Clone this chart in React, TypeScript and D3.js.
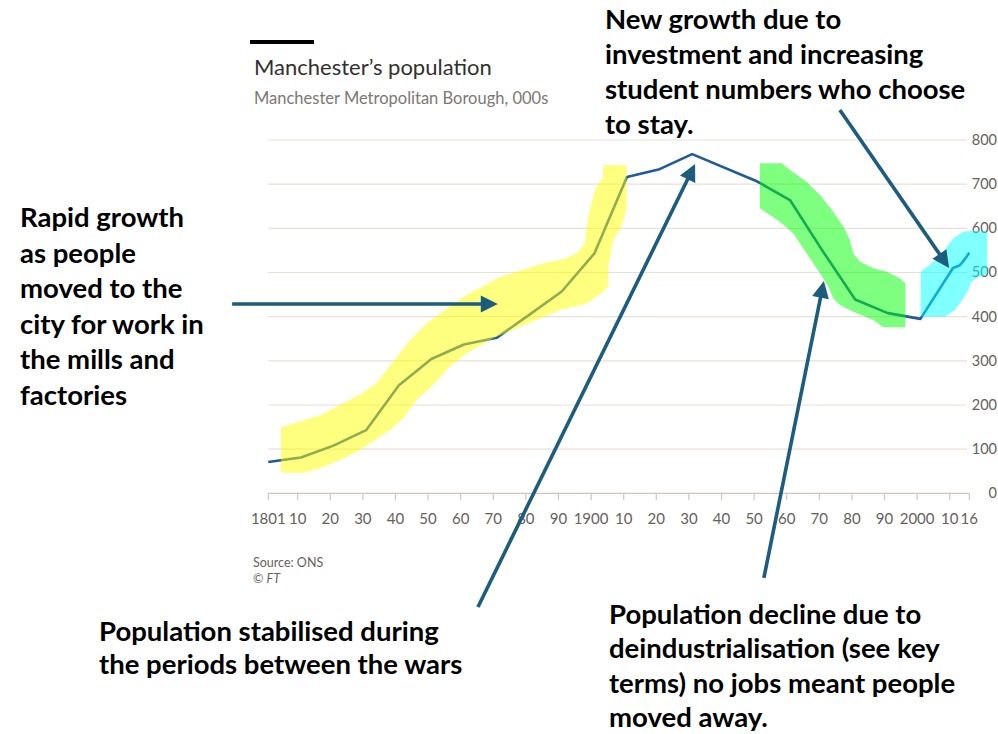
import React from "react";
import * as d3 from "d3";

// ---------- data ----------
const years = [1801, 1811, 1821, 1831, 1841, 1851, 1861, 1871, 1881, 1891, 1901, 1911, 1921, 1931, 1951, 1961, 1971, 1981, 1991, 2001, 2011, 2012, 2013, 2014, 2015, 2016];
const population = [71, 81, 108, 143, 244, 304, 337, 352, 404, 457, 543, 716, 734, 768, 706, 664, 549, 439, 408, 395, 510, 513, 516, 524, 534, 545];

const xTickYears = [1801, 1810, 1820, 1830, 1840, 1850, 1860, 1870, 1880, 1890, 1900, 1910, 1920, 1930, 1940, 1950, 1960, 1970, 1980, 1990, 2000, 2010, 2016];
const xTickLabels = ["1801", "10", "20", "30", "40", "50", "60", "70", "80", "90", "1900", "10", "20", "30", "40", "50", "60", "70", "80", "90", "2000", "10", "16"];
const yTicks = [0, 100, 200, 300, 400, 500, 600, 700, 800];

// highlighter outlines, in [year, population] units
const yellowOutline: [number, number][] = [
  [1804.9, 149.5], [1816.9, 177], [1829.1, 223], [1834.2, 249], [1839.3, 298], [1844.5, 347], [1849.6, 385],
  [1860.8, 445], [1872.1, 490], [1885.3, 521], [1891.5, 530], [1895.6, 543], [1898.1, 566], [1899.1, 626],
  [1901.2, 687], [1903.7, 717], [1903.7, 743.4], [1910.9, 743.4], [1910.9, 641.5], [1908.9, 596], [1906.8, 574],
  [1905.3, 513], [1905.3, 468], [1903.7, 456.5], [1898.7, 430], [1890.5, 415], [1878.2, 377], [1870.0, 351],
  [1861.8, 317], [1856.7, 287], [1851.6, 245], [1846.5, 211], [1842.4, 170], [1838.3, 143], [1829.1, 98],
  [1824.0, 79], [1816.9, 57], [1811.7, 46.6], [1804.9, 46.6],
];
const greenOutline: [number, number][] = [
  [1951.8, 747.3], [1958.5, 747.3], [1961.0, 732], [1966.1, 705.6], [1970.2, 675.5], [1974.3, 637.7],
  [1977.4, 603.7], [1979.4, 573.6], [1980.4, 543.5], [1982.5, 524.5], [1986.6, 509.5], [1990.7, 501.8],
  [1994.7, 486.9], [1996.4, 475.5], [1996.4, 375.9], [1989.6, 375.9], [1986.6, 392.4], [1980.4, 411.2],
  [1976.3, 426.4], [1974.3, 441.6], [1972.8, 467.8], [1970.2, 498.2], [1966.1, 543.5], [1962.0, 588.8],
  [1957.9, 615], [1951.8, 645.4],
];
const cyanOutline: [number, number][] = [
  [2001.1, 399.9], [2008.5, 399.9], [2011.6, 415.1], [2014.2, 441.6], [2015.7, 460.4], [2016.7, 479.2],
  [2018.8, 490.5], [2021.5, 494.3], [2021.5, 592.4], [2017.2, 594.7], [2014.2, 592.4], [2011.1, 577.4],
  [2009.1, 558.4], [2007.5, 539.6], [2005.0, 524.5], [2001.1, 501.8],
];

// annotation arrows: [tailYear, tailValue, tipYear, tipValue]
const arrows: [number, number, number, number][] = [
  [1789.9, 428.7, 1871.4, 428.7],
  [1865.3, -257.5, 1931.9, 745.7],
  [1976.3, 868, 2009.8, 510.2],
  [1953.0, -191.4, 1971.4, 480.8],
];

const noteRapid = ["Rapid growth", "as people", "moved to the", "city for work in", "the mills and", "factories"];
const noteNew = ["New growth due to", "investment and increasing", "student numbers who choose", "to stay."];
const noteStable = ["Population stabilised during", "the periods between the wars"];
const noteDecline = ["Population decline due to", "deindustrialisation (see key", "terms) no jobs meant people", "moved away."];

// ---------- layout ----------
const W = 998;
const H = 734;
const x = d3.scaleLinear().domain([1801, 2016]).range([268.3, 969.3]);
const y = d3.scaleLinear().domain([0, 800]).range([493.3, 140]);

const lineGen = d3.line<number>().x((_, i) => x(years[i])).y((d) => y(d));
const outlineGen = d3.line<[number, number]>().x((d) => x(d[0])).y((d) => y(d[1])).curve(d3.curveLinearClosed);

const annFont = "Lato, 'Liberation Sans', sans-serif";
const chartFont = "Lato, 'Open Sans', sans-serif";
const arrowColor = "#1c5c7e";

function Arrow({ a }: { a: [number, number, number, number] }) {
  const x1 = x(a[0]), y1 = y(a[1]), x2 = x(a[2]), y2 = y(a[3]);
  const ang = Math.atan2(y2 - y1, x2 - x1);
  const len = 17, hw = 8.5;
  const bx = x2 - len * Math.cos(ang), by = y2 - len * Math.sin(ang);
  const px = -Math.sin(ang) * hw, py = Math.cos(ang) * hw;
  return (
    <g>
      <line x1={x1} y1={y1} x2={bx + 2 * Math.cos(ang)} y2={by + 2 * Math.sin(ang)} stroke={arrowColor} strokeWidth={3.6} />
      <polygon points={`${x2},${y2} ${bx + px},${by + py} ${bx - px},${by - py}`} fill={arrowColor} />
    </g>
  );
}

function TextBlock({ lines, x0, y0, dy, size }: { lines: string[]; x0: number; y0: number; dy: number; size: number }) {
  return (
    <g fontFamily={annFont} fontWeight={700} fontSize={size} fill="#000">
      {lines.map((l, i) => (
        <text key={i} x={x0} y={y0 + i * dy}>{l}</text>
      ))}
    </g>
  );
}

export default function App() {
  return (
    <svg width={W} height={H} style={{ position: "absolute", left: 0, top: 0, background: "#fff" }}>
      <rect width={W} height={H} fill="#fff" />
      {/* title */}
      <rect x={250} y={40} width={64} height={4} fill="#000" />
      <text x={254} y={75} fontFamily={chartFont} fontSize={22} fill="#33302e">Manchester’s population</text>
      <text x={254} y={104} fontFamily={chartFont} fontSize={16.5} fill="#7d7773">Manchester Metropolitan Borough, 000s</text>

      {/* gridlines and y labels */}
      {yTicks.map((t) => (
        <g key={t}>
          {t > 0 && <line x1={x(1801)} x2={967} y1={y(t)} y2={y(t)} stroke="#eadfd5" strokeWidth={1.2} />}
          <text x={997} y={y(t) + 5} textAnchor="end" fontFamily={chartFont} fontSize={14.5} fill="#66605c">{t}</text>
        </g>
      ))}

      {/* x axis */}
      <line x1={x(1801)} x2={x(2016)} y1={y(0)} y2={y(0)} stroke="#d0c6bd" strokeWidth={1.2} />
      {xTickYears.map((yr, i) => (
        <g key={yr}>
          <line x1={x(yr)} x2={x(yr)} y1={y(0)} y2={y(0) + 7} stroke="#d0c6bd" strokeWidth={1.2} />
          <text x={x(yr)} y={524} textAnchor="middle" fontFamily={chartFont} fontSize={15} fill="#66605c">{xTickLabels[i]}</text>
        </g>
      ))}

      {/* data line */}
      <path d={lineGen(population) || ""} fill="none" stroke="#1f5a9c" strokeWidth={2.6} strokeLinejoin="round" />

      {/* highlighter */}
      <path d={outlineGen(yellowOutline) || ""} fill="rgba(255,255,0,0.5)" />
      <path d={outlineGen(greenOutline) || ""} fill="rgba(0,255,0,0.5)" />
      <path d={outlineGen(cyanOutline) || ""} fill="rgba(0,255,255,0.5)" />

      {/* source */}
      <text x={253} y={567} fontFamily={chartFont} fontSize={12.5} fill="#66605c">Source: ONS</text>
      <text x={253} y={583} fontFamily={chartFont} fontSize={12.5} fill="#66605c">© <tspan fontStyle="italic">FT</tspan></text>

      {/* arrows */}
      {arrows.map((a, i) => <Arrow key={i} a={a} />)}

      {/* annotations */}
      <TextBlock lines={noteRapid} x0={20} y0={227} dy={35.5} size={27.5} />
      <TextBlock lines={noteNew} x0={605} y0={29} dy={35} size={27.5} />
      <TextBlock lines={noteStable} x0={99} y0={641} dy={33} size={27.5} />
      <TextBlock lines={noteDecline} x0={609} y0={623.5} dy={34.5} size={27.5} />
    </svg>
  );
}
